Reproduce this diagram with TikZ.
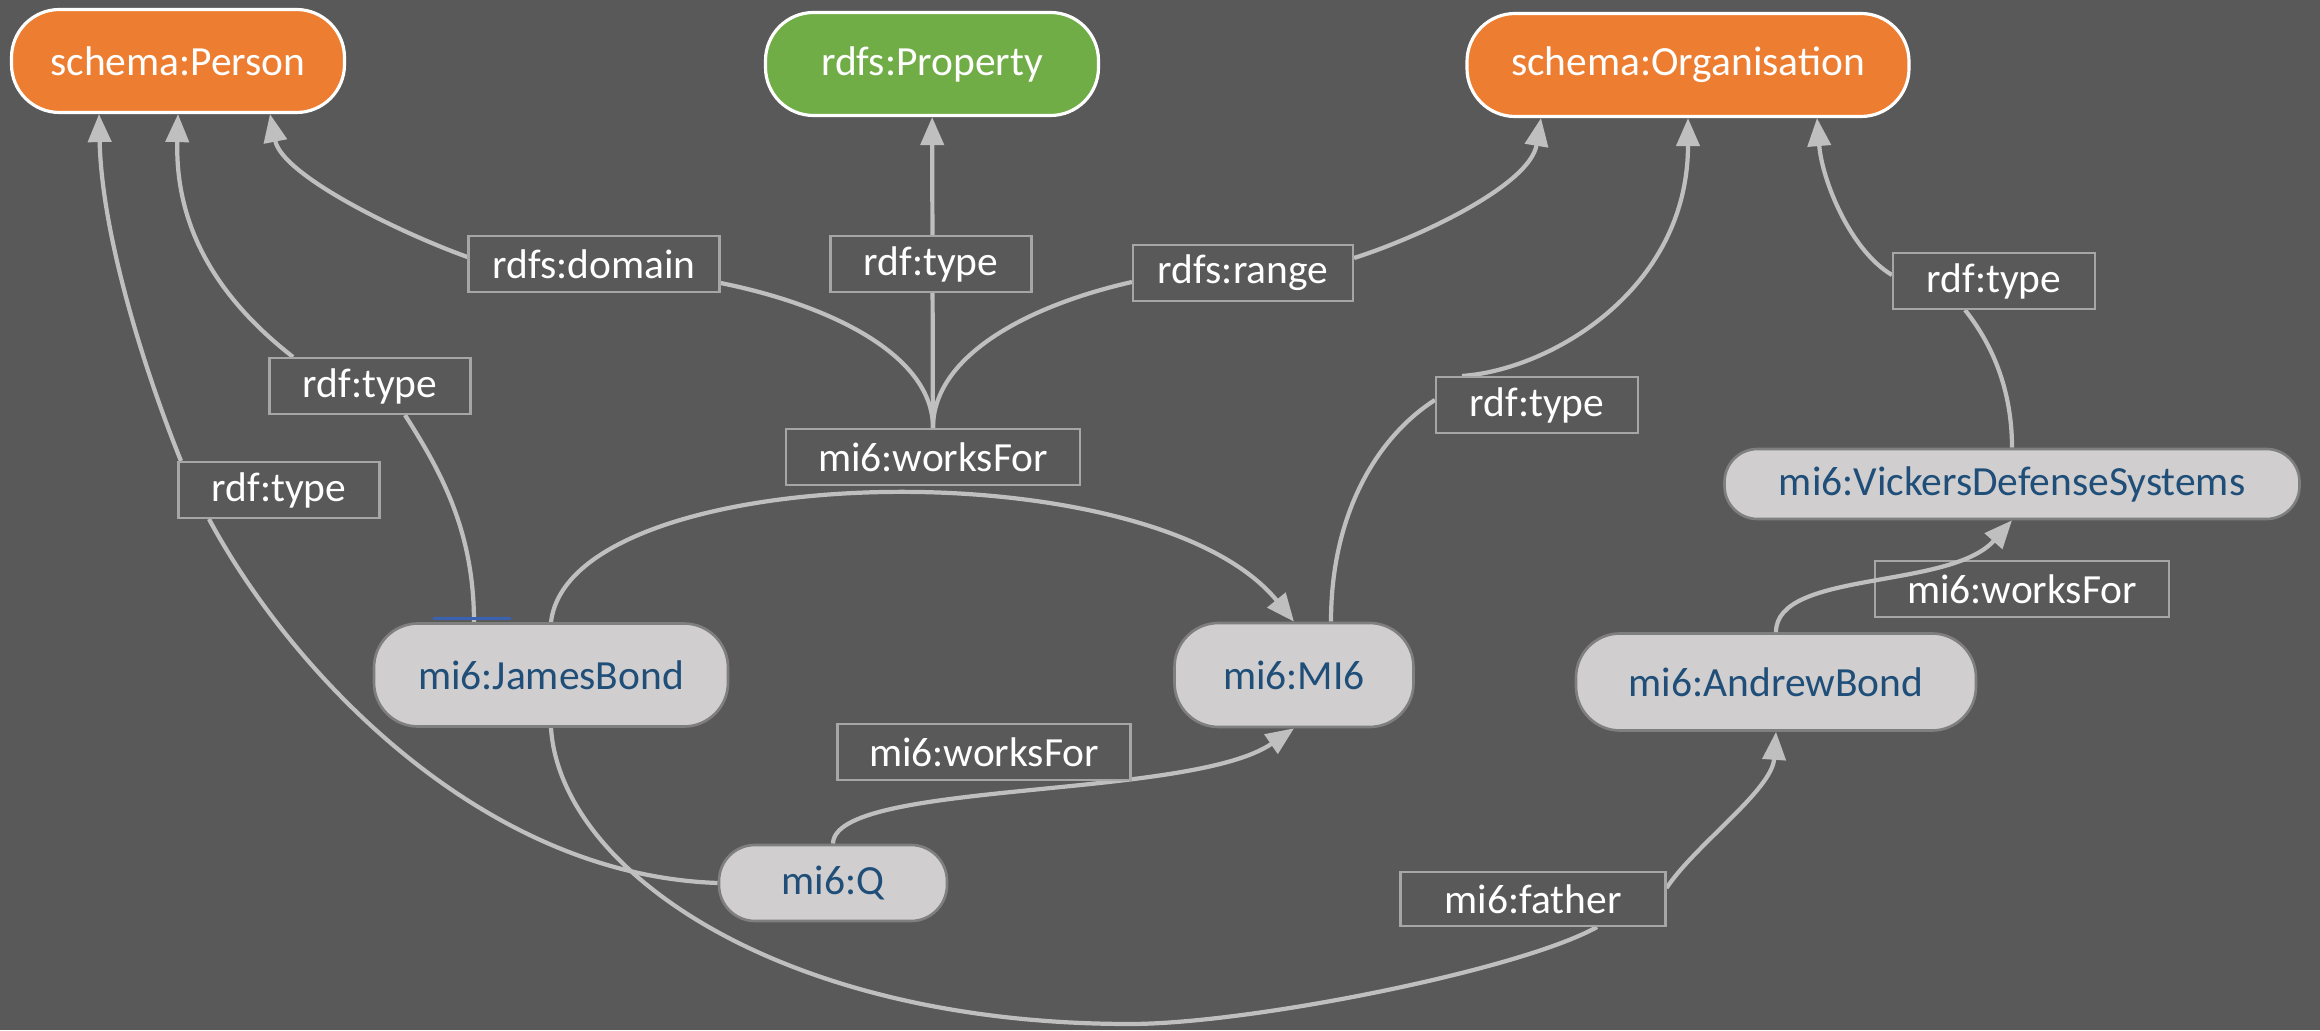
\documentclass[tikz,border=0pt]{standalone}
\usepackage{fontspec}
\setmainfont{Carlito}
\usetikzlibrary{arrows.meta}

\definecolor{bgcol}{HTML}{595959}
\definecolor{orangecol}{HTML}{ED7D31}
\definecolor{greencol}{HTML}{70AD47}
\definecolor{relcol}{HTML}{BFBFBF}
\definecolor{boxcol}{HTML}{A6A6A6}
\definecolor{indivfill}{HTML}{D0CECE}
\definecolor{indivdraw}{HTML}{7F7F7F}
\definecolor{indivtext}{HTML}{1F4E79}
\definecolor{markblue}{HTML}{3A62B2}

\pgfdeclarelayer{bglayer}
\pgfdeclarelayer{rellayer}
\pgfsetlayers{bglayer,rellayer,main}

\begin{document}
\begin{tikzpicture}[
    font=\fontsize{11.8}{14}\selectfont,
    class/.style={draw=white,line width=0.9pt,text=white,rounded corners=0.48cm,minimum height=1.03cm,inner sep=0pt},
    indiv/.style={draw=indivdraw,fill=indivfill,line width=0.75pt,text=indivtext,rounded corners=0.44cm,inner sep=0pt},
    prop/.style={draw=boxcol,fill=bgcol,line width=0.6pt,text=white,minimum height=0.56cm,inner sep=0pt},
    rel/.style={draw=relcol,line width=1.2pt,-{Triangle[length=0.28cm,width=0.23cm]}}
]
\useasboundingbox (0,0) rectangle (23.2,10.3);
\begin{pgfonlayer}{bglayer}
\fill[bgcol] (0,0) rectangle (23.2,10.3);
\end{pgfonlayer}

% classes
\node[class,fill=orangecol,minimum width=3.33cm] (person) at (1.78,9.69) {schema:Person};
\node[class,fill=greencol,minimum width=3.33cm] (property) at (9.32,9.66) {rdfs:Property};
\node[class,fill=orangecol,minimum width=4.42cm] (org) at (16.88,9.65) {schema:Organisation};

% individuals
\node[indiv,minimum width=3.54cm,minimum height=1.03cm] (jb) at (5.51,3.55) {mi6:JamesBond};
\node[indiv,minimum width=2.39cm,minimum height=1.04cm] (mi6) at (12.94,3.55) {mi6:MI6};
\node[indiv,minimum width=4.00cm,minimum height=0.97cm] (andrew) at (17.76,3.48) {mi6:AndrewBond};
\node[indiv,minimum width=5.75cm,minimum height=0.70cm,rounded corners=0.33cm] (vickers) at (20.12,5.46) {mi6:VickersDefenseSystems};
\node[indiv,minimum width=2.28cm,minimum height=0.76cm,rounded corners=0.36cm] (q) at (8.33,1.47) {mi6:Q};

% property boxes
\node[prop,minimum width=2.51cm] (lDomain) at (5.94,7.66) {rdfs:domain};
\node[prop,minimum width=2.01cm] (lTypeProp) at (9.31,7.66) {rdf:type};
\node[prop,minimum width=2.20cm] (lRange) at (12.43,7.57) {rdfs:range};
\node[prop,minimum width=2.94cm] (lWorksFor) at (9.33,5.73) {mi6:worksFor};
\node[prop,minimum width=2.01cm] (lTypeJB) at (3.70,6.44) {rdf:type};
\node[prop,minimum width=2.01cm] (lTypeQ) at (2.79,5.40) {rdf:type};
\node[prop,minimum width=2.02cm] (lTypeMI6) at (15.37,6.25) {rdf:type};
\node[prop,minimum width=2.02cm] (lTypeV) at (19.94,7.49) {rdf:type};
\node[prop,minimum width=2.94cm] (lWorksAV) at (20.22,4.41) {mi6:worksFor};
\node[prop,minimum width=2.93cm] (lWorksQ) at (9.84,2.78) {mi6:worksFor};
\node[prop,minimum width=2.65cm,minimum height=0.54cm] (lFather) at (15.33,1.31) {mi6:father};

\begin{pgfonlayer}{rellayer}
\draw[rel] ([xshift=-7.7mm]jb.north) .. controls (4.74,5.0) and (4.4,5.6) .. ([xshift=3.5mm]lTypeJB.south)
    ([xshift=-7.7mm]lTypeJB.north) .. controls (2.2,7.3) and (1.75,8.0) .. (person.south);
\draw[rel] (q.west) .. controls (4.8,1.55) and (2.9,3.6) .. ([xshift=-7mm]lTypeQ.south)
    ([xshift=-9.8mm]lTypeQ.north) .. controls (1.51,6.43) and (1.02,7.87) .. ([xshift=-7.9mm]person.south);
\draw[rel] (lWorksFor.north) .. controls (9.33,6.75) and (8.3,7.25) .. ([yshift=-1.9mm]lDomain.east)
    ([yshift=0.7mm]lDomain.west) .. controls (3.98,7.98) and (2.82,8.55) .. ([xshift=9.2mm]person.south);
\draw[rel] (lWorksFor) -- (property);
\draw[rel] (lWorksFor.north) .. controls (9.33,6.75) and (10.3,7.25) .. ([yshift=-0.9mm]lRange.west)
    ([yshift=1.5mm]lRange.east) .. controls (14.2,7.93) and (15.3,8.45) .. ([xshift=-14.7mm]org.south);
\draw[rel] (jb.north) .. controls (5.7,5.7) and (11.5,5.85) .. (mi6.north);
\draw[rel] ([xshift=3.7mm]mi6.north) .. controls (13.31,5.2) and (13.8,5.95) .. ([yshift=0.5mm]lTypeMI6.west)
    ([xshift=-7.5mm]lTypeMI6.north) .. controls (15.5,6.6) and (16.88,7.4) .. (org.south);
\draw[rel] (vickers.north) .. controls (20.12,6.5) and (19.85,6.95) .. ([xshift=-2.9mm]lTypeV.south)
    ([yshift=0.6mm]lTypeV.west) .. controls (18.5,7.8) and (18.22,8.5) .. ([xshift=12.9mm]org.south);
\draw[rel] (q.north) .. controls (8.34,2.5) and (11.9,2.3) .. (mi6.south);
\draw[rel] (jb.south) .. controls (5.6,1.6) and (7.8,0.06) .. (11.3,0.06)
    .. controls (12.5,0.06) and (15.2,0.6) .. ([xshift=6.4mm]lFather.south)
    ([yshift=1.1mm]lFather.east) .. controls (16.95,1.85) and (17.72,2.4) .. (andrew.south);
\end{pgfonlayer}

\draw[rel] (andrew.north) .. controls (17.76,4.6) and (19.5,4.4) .. (vickers.south);
\draw[markblue,line width=1pt] ([xshift=-11.8mm,yshift=0.35mm]jb.north) -- ([xshift=-4mm,yshift=0.35mm]jb.north);

\end{tikzpicture}
\end{document}
